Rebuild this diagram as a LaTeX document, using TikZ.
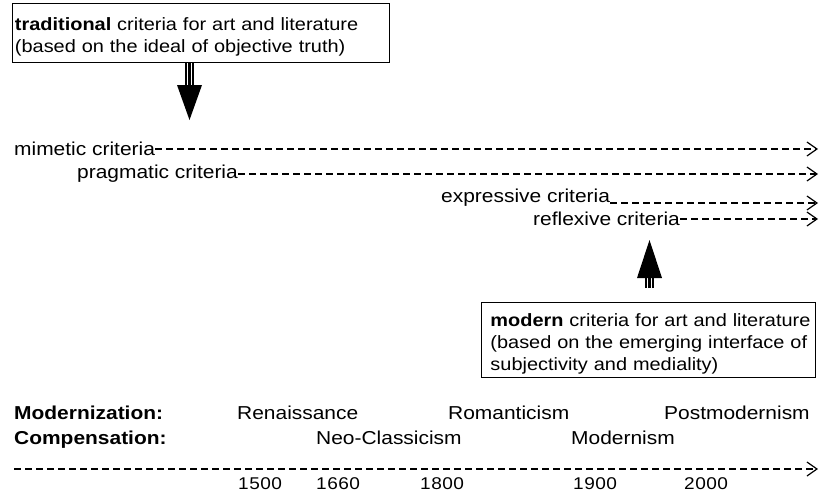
\documentclass[tikz,border=0pt]{standalone}
\usepackage{fontspec}
\setmainfont[FakeStretch=1.12]{Liberation Sans}
\usetikzlibrary{arrows.meta}
\begin{document}
\begin{tikzpicture}[x=1pt,y=-1pt,
  lbl/.style={anchor=base west,inner sep=0pt,font=\fontsize{18.7}{22}\selectfont},
  yr/.style={anchor=base west,inner sep=0pt,font=\fontsize{17}{20}\selectfont\addfontfeature{LetterSpace=3}},
  cbox/.style={draw,line width=0.9pt,anchor=north west,inner ysep=0pt,
    align=left,font=\fontsize{17.8}{22}\selectfont},
  dline/.style={dash pattern=on 7pt off 4pt,line width=1.2pt,
    -{Straight Barb[length=10pt,width=14pt,line width=1.2pt]}},
  shaft/.style={line width=2.3pt},
  tip/.style={fill=black}]
\useasboundingbox (0,0) rectangle (819,491);

% boxes
\node[cbox,inner xsep=2.5pt,minimum width=377pt,text width=372pt,text height=27pt,text depth=32pt] (t) at (12,3)
  {\textbf{traditional} criteria for art and literature\\(based on the ideal of objective truth)};
\node[cbox,inner xsep=0pt,minimum width=334pt,text width=334pt,text height=24pt,text depth=51pt] (m) at (481,302)
  {\hspace*{9pt}\textbf{modern} criteria for art and literature\\\hspace*{9pt}(based on the emerging interface of\\\hspace*{9pt}subjectivity and mediality)};

% down arrow
\coordinate (dA) at (189.5,62);
\coordinate (dB) at (189.5,85);
\coordinate (dT) at (189.5,120);
\foreach \dx in {-3.7,0,3.7}
  \draw[shaft] ([xshift=\dx pt]t.south -| dA) -- ([xshift=\dx pt]dB);
\fill[tip] ([xshift=-12.5pt]dB) -- ([xshift=12.5pt]dB) -- (dT) -- cycle;

% up arrow
\coordinate (uA) at (649.5,288);
\coordinate (uB) at (649.5,278);
\coordinate (uT) at (649.5,240);
\foreach \dx in {-3.7,0,3.7}
  \draw[shaft] ([xshift=\dx pt]uA) -- ([xshift=\dx pt]uB);
\fill[tip] ([xshift=-12.5pt]uB) -- ([xshift=12.5pt]uB) -- (uT) -- cycle;

% criteria
\node[lbl] (c1) at (14,155) {mimetic criteria};
\node[lbl] (c2) at (77,178) {pragmatic criteria};
\node[lbl] (c3) at (441,202) {expressive criteria};
\node[lbl] (c4) at (533,225) {reflexive criteria};
\coordinate (e1) at (818,149);
\coordinate (e2) at (818,174);
\coordinate (e3) at (818,203);
\coordinate (e4) at (818,219);
\draw[dline] (c1.east |- e1) -- (e1);
\draw[dline] (c2.east |- e2) -- (e2);
\draw[dline] (c3.east |- e3) -- (e3);
\draw[dline] (c4.east |- e4) -- (e4);

% periods
\node[lbl,font=\fontsize{18.7}{22}\selectfont\bfseries] (mod) at (14,419) {Modernization:};
\node[lbl,font=\fontsize{18.7}{22}\selectfont\bfseries] (comp) at (14,444) {Compensation:};
\node[lbl] (ren) at (237,419) {Renaissance};
\node[lbl] (rom) at (448,419) {Romanticism};
\node[lbl] (pm) at (664,419) {Postmodernism};
\node[lbl] (nc) at (316,444) {Neo-Classicism};
\node[lbl] (mo) at (571,444) {Modernism};

% timeline
\coordinate (ts) at (14,469);
\coordinate (te) at (818,469);
\draw[dline] (ts) -- (te);
\node[yr] (y1) at (238,489) {1500};
\node[yr] (y2) at (316,489) {1660};
\node[yr] (y3) at (420,489) {1800};
\node[yr] (y4) at (573,489) {1900};
\node[yr] (y5) at (684,489) {2000};
\end{tikzpicture}
\end{document}
